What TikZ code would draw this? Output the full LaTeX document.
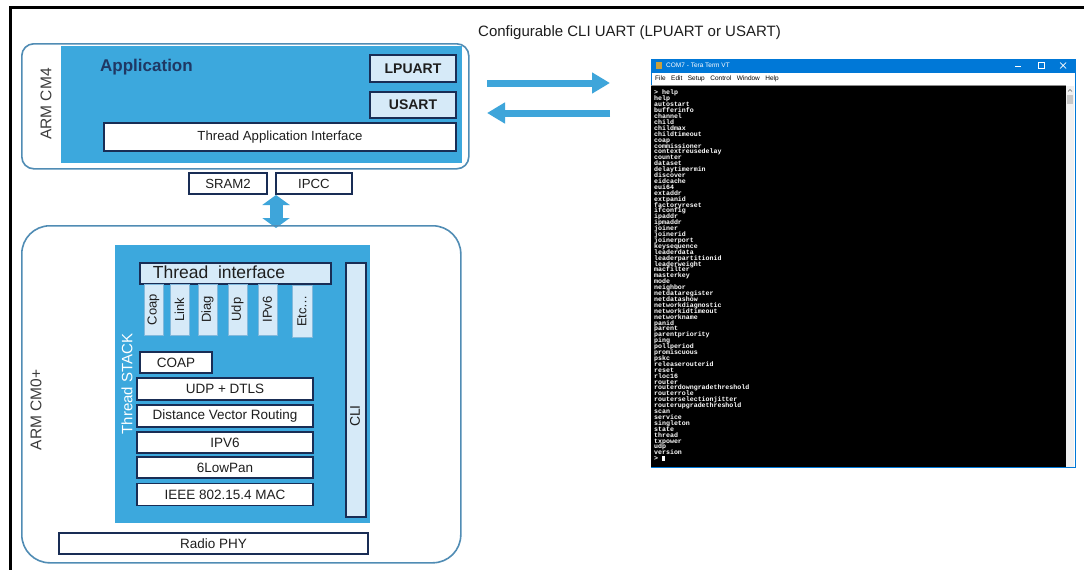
\documentclass[tikz,border=0pt]{standalone}
\usepackage{fontspec}
\setmainfont{Liberation Sans}
\newfontfamily\termfont{Liberation Mono}
\usetikzlibrary{arrows.meta}
\newcommand\termsetup{\termfont\bfseries\fontsize{6.6}{5.9}\selectfont\lineskiplimit=-20pt\relax\lineskip=0pt\relax}
\definecolor{stblue}{RGB}{60,168,221}
\definecolor{outline}{RGB}{80,140,180}
\definecolor{navy}{RGB}{25,45,85}
\definecolor{lightblue}{RGB}{214,234,248}
\definecolor{smallborder}{RGB}{130,185,220}
\definecolor{arrowblue}{RGB}{62,165,218}
\definecolor{winblue}{RGB}{0,120,215}
\definecolor{txtdark}{RGB}{30,30,30}
\definecolor{appnavy}{RGB}{31,56,100}
\definecolor{labelgray}{RGB}{60,60,60}
\definecolor{icongold}{RGB}{200,160,60}
\tikzset{
  box/.style={draw=navy, line width=1.6pt, fill=white, inner sep=0pt, text=txtdark,
    font=\fontsize{13.5}{16}\selectfont},
  lbbox/.style={box, fill=lightblue},
  smallbox/.style={draw=smallborder, line width=1pt, fill=lightblue, inner sep=0pt,
    rotate=90, text=txtdark, font=\fontsize{13}{15}\selectfont},
  container/.style={draw=outline, line width=1.6pt, inner sep=0pt},
  bluefill/.style={fill=stblue, draw=none, inner sep=0pt},
  fatarrow/.style={draw=arrowblue, line width=7pt, -{Triangle[length=18pt,width=20pt]}},
  corelabel/.style={rotate=90, text=labelgray, font=\fontsize{15.5}{18}\selectfont, inner sep=0pt},
}
\begin{document}
\begin{tikzpicture}[x=1pt,y=-1pt]
\useasboundingbox (0,0) rectangle (1084,570);
\fill[white] (0,0) rectangle (1084,570);
% frame
\draw[line width=2.6pt] (1084,7.5) -- (10.5,7.5) -- (10.5,570);

% ARM CM4
\node[container, rounded corners=12pt, minimum width=447pt, minimum height=125pt, anchor=north west] (cm4) at (21,43) {};
\node[bluefill, minimum width=401pt, minimum height=117pt, anchor=north west] (appfill) at (61,46) {};
\node[corelabel] (cm4lbl) at (46,104) {ARM CM4};
\node[anchor=west, inner sep=0pt, text=appnavy, font=\bfseries\fontsize{17}{20}\selectfont] (app) at (100,67) {Application};
\node[lbbox, font=\bfseries\fontsize{14}{16}\selectfont, minimum width=86pt, minimum height=27pt] (lpuart) at (413,68.5) {LPUART};
\node[lbbox, font=\bfseries\fontsize{14}{16}\selectfont, minimum width=86pt, minimum height=26pt] (usart) at (413,105) {USART};
\node[box, font=\fontsize{13.2}{16}\selectfont, minimum width=352pt, minimum height=28pt] (tai) at (280,137) {Thread Application Interface};

% SRAM2 / IPCC
\node[box, font=\fontsize{13.2}{16}\selectfont, minimum width=78pt, minimum height=21pt] (sram) at (228,183.5) {SRAM2};
\node[box, font=\fontsize{13.2}{16}\selectfont, minimum width=76pt, minimum height=21pt] (ipcc) at (314,183.5) {IPCC};
\coordinate (dtop) at (276,195);
\coordinate (dbot) at (276,228);
\draw[draw=arrowblue, line width=13pt, {Triangle[length=10pt,width=27pt]}-{Triangle[length=10pt,width=27pt]}] (dtop) -- (dbot);

% ARM CM0+
\node[container, rounded corners=28pt, minimum width=439pt, minimum height=337pt, anchor=north west] (cm0) at (21,225) {};
\node[corelabel] (cm0lbl) at (36,410) {ARM CM0+};
\node[bluefill, minimum width=255pt, minimum height=278pt, anchor=north west] (stack) at (115,245) {};
\node[rotate=90, text=white, inner sep=0pt, font=\fontsize{15}{18}\selectfont] (stacklbl) at (127,384) {Thread STACK};

\node[lbbox, minimum width=191pt, minimum height=21pt, anchor=north west] (tif) at (139,262) {};
\node[inner sep=0pt, text=txtdark, font=\fontsize{17.5}{20}\selectfont] (tiflbl) at (219,272.5) {Thread\ \ interface};

\node[smallbox, minimum width=51pt, minimum height=19pt] (s1) at (153.5,309.5) {Coap};
\node[smallbox, minimum width=51pt, minimum height=19pt] (s2) at (179.5,309.5) {Link};
\node[smallbox, minimum width=51pt, minimum height=19pt] (s3) at (207.5,309.5) {Diag};
\node[smallbox, minimum width=51pt, minimum height=19pt] (s4) at (237.5,309.5) {Udp};
\node[smallbox, minimum width=51pt, minimum height=19pt] (s5) at (267.5,309.5) {IPv6};
\node[smallbox, minimum width=52pt, minimum height=20pt] (s6) at (302,311) {Etc…};

\node[box, minimum width=72pt, minimum height=21pt] (coap) at (176,362.5) {COAP};
\node[box, minimum width=176pt, minimum height=22pt] (udp) at (225,389) {UDP + DTLS};
\node[box, minimum width=176pt, minimum height=22pt] (dvr) at (225,416) {Distance Vector Routing};
\node[box, minimum width=176pt, minimum height=21pt] (ipv6) at (225,442.5) {IPV6};
\node[box, minimum width=176pt, minimum height=21pt] (lowpan) at (225,467.5) {6LowPan};
\node[box, minimum width=176pt, minimum height=22pt] (mac) at (225,494.5) {IEEE 802.15.4 MAC};

\node[lbbox, minimum width=20pt, minimum height=254pt, anchor=north west] (cli) at (345,262) {};
\node[rotate=90, inner sep=0pt, text=txtdark, font=\fontsize{14}{16}\selectfont] (clilbl) at (355,416) {CLI};

\node[box, minimum width=309pt, minimum height=21pt] (phy) at (213.5,543.5) {Radio PHY};

% UART arrows
\node[anchor=west, inner sep=0pt, text=txtdark, font=\fontsize{15}{18}\selectfont] (cfg) at (478,33) {Configurable CLI UART (LPUART or USART)};
\coordinate (a1s) at (487,83);
\coordinate (a1e) at (610,83);
\coordinate (a2s) at (610,113);
\coordinate (a2e) at (487,113);
\draw[fatarrow] (a1s) -- (a1e);
\draw[fatarrow] (a2s) -- (a2e);

% terminal window
\node[draw=winblue, line width=1pt, fill=white, minimum width=424pt, minimum height=408pt, anchor=north west, inner sep=0pt] (win) at (651,59) {};
\fill[winblue] (651,59) rectangle (1075,73);
\fill[black] (651,86) rectangle (1066,467);
\fill[black!6] (1066,86) rectangle (1074,467);
\fill[black!22] (1067,95) rectangle (1073,104);
\draw[black!60, line width=0.6pt] (1068,91.5) -- (1070,89.5) -- (1072,91.5);
\draw[black!45, line width=0.6pt] (651,85.5) -- (1066,85.5);
\fill[icongold] (656,62) rectangle (662,69);
\node[anchor=west, inner sep=0pt, text=white, font=\fontsize{6.5}{8}\selectfont] (wtitle) at (666,65.5) {COM7 - Tera Term VT};
\draw[white, line width=0.7pt] (1015,66) -- (1021,66);
\draw[white, line width=0.7pt] (1038,62.5) rectangle (1044,68.5);
\draw[white, line width=0.7pt] (1060,62.5) -- (1066,68.5) (1060,68.5) -- (1066,62.5);
\node[anchor=west, inner sep=0pt, text=black, font=\fontsize{6.5}{8}\selectfont] (menu) at (655,79) {File\hspace{5.5pt}Edit\hspace{5.5pt}Setup\hspace{5.5pt}Control\hspace{5.5pt}Window\hspace{5.5pt}Help};
\node[anchor=north west, inner sep=0pt, align=left, text=white, font=\termsetup] (term) at (654,90) {%
> help\\ help\\ autostart\\ bufferinfo\\ channel\\ child\\ childmax\\ childtimeout\\ coap\\ commissioner\\
contextreusedelay\\ counter\\ dataset\\ delaytimermin\\ discover\\ eidcache\\ eui64\\ extaddr\\ extpanid\\
factoryreset\\ ifconfig\\ ipaddr\\ ipmaddr\\ joiner\\ joinerid\\ joinerport\\ keysequence\\ leaderdata\\
leaderpartitionid\\ leaderweight\\ macfilter\\ masterkey\\ mode\\ neighbor\\ netdataregister\\ netdatashow\\
networkdiagnostic\\ networkidtimeout\\ networkname\\ panid\\ parent\\ parentpriority\\ ping\\ pollperiod\\
promiscuous\\ pskc\\ releaserouterid\\ reset\\ rloc16\\ router\\ routerdowngradethreshold\\ routerrole\\
routerselectionjitter\\ routerupgradethreshold\\ scan\\ service\\ singleton\\ state\\ thread\\ txpower\\
udp\\ version\\ > \rule{3pt}{5pt}};
\end{tikzpicture}
\end{document}
